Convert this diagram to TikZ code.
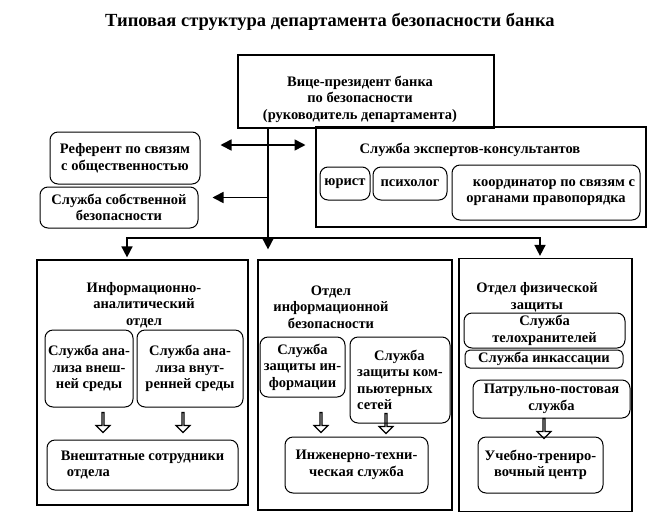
\documentclass[tikz,border=0pt]{standalone}
\usepackage{fontspec}
\setmainfont{Liberation Serif}
\usetikzlibrary{arrows.meta,shapes.arrows}

\begin{document}
\begin{tikzpicture}[x=1pt,y=-1pt,font=\bfseries\fontsize{14.5}{16.5}\selectfont,
 frame/.style={draw,line width=1.2pt,inner sep=0pt},
 box/.style={draw,line width=1pt,rounded corners=8pt,align=center,inner sep=1pt},
 txt/.style={align=center,inner sep=0pt},
 tip/.tip={Triangle[length=11pt,width=11pt]},
 arr/.style={line width=1.6pt,-tip},
 hol/.style={single arrow,draw,line width=1.2pt,shape border rotate=270,minimum height=20pt,
   minimum width=14pt,single arrow head extend=3.5pt,inner sep=0pt}]
\useasboundingbox (0,0) rectangle (661,523);
\node[font=\bfseries\fontsize{18.5}{22}\selectfont] (title) at (330,22) {Типовая структура департамента безопасности банка};

% head of department and staff around it
\node[frame,minimum width=256pt,minimum height=73pt] (vp) at (366,91.5) {};
\node[txt] (vpt) at (360,99) {Вице-президент банка\\ по безопасности\\(руководитель департамента)};
\node[frame,minimum width=330pt,minimum height=100pt] (exp) at (481,177) {};
\node[txt] (expt) at (470,150) {Служба экспертов-консультантов};
\node[box,minimum width=50pt,minimum height=33pt] (jur) at (345,183.5) {юрист};
\node[box,minimum width=74pt,minimum height=33pt] (psy) at (410,183.5) {психолог};
\node[box,minimum width=188pt,minimum height=55pt] (coord) at (546,192.5) {\hspace*{16pt}координатор по связям с\\органами правопорядка};
\node[box,minimum width=150pt,minimum height=52pt] (ref) at (125,158) {Референт по связям\\с общественностью};
\node[box,minimum width=158pt,minimum height=41pt] (sob) at (119,207.5) {Служба собственной\\безопасности};

% three departments
\node[frame,minimum width=211pt,minimum height=245pt] (inf) at (142.5,382.5) {};
\node[txt] (inft) at (144,305) {Информационно-\\аналитический\\отдел};
\node[frame,minimum width=194pt,minimum height=250pt] (mid) at (355,385) {};
\node[txt] (midt) at (331,307) {Отдел\\информационной\\безопасности};
\node[frame,minimum width=173pt,minimum height=253pt] (fiz) at (545.5,385) {};
\node[txt] (fizt) at (537,297) {Отдел физической\\защиты};

\node[box,minimum width=88pt,minimum height=77pt] (inf1) at (89,368.5) {Служба ана-\\лиза внеш-\\ней среды};
\node[box,minimum width=106pt,minimum height=77pt] (inf2) at (190,368.5) {Служба ана-\\лиза внут-\\ренней среды};
\node[box,minimum width=191pt,minimum height=50pt,align=left] (ext) at (142.5,465) {Внештатные сотрудники\\\hspace*{6pt}отдела};
\node[hol] (h1) at (103,422) {};
\node[hol] (h2) at (183,422) {};

\node[box,minimum width=85pt,minimum height=60pt] (mid1) at (302.5,367) {Служба\\защиты ин-\\формации};
\node[box,minimum width=100pt,minimum height=86pt,align=left] (mid2) at (400,380) {\hspace*{17pt}Служба\\защиты ком-\\пьютерных\\сетей};
\node[box,minimum width=143pt,minimum height=56pt] (eng) at (356.5,465) {Инженерно-техни-\\ческая служба};
\node[hol] (h3) at (321,422) {};
\node[hol] (h4) at (386,423) {};

\node[box,minimum width=161pt,minimum height=35pt] (fiz1) at (544.5,330.5) {Служба\\телохранителей};
\node[box,minimum width=158pt,minimum height=18pt,rounded corners=5pt] (fiz2) at (544,359) {Служба инкассации};
\node[box,minimum width=157pt,minimum height=38pt] (fiz3) at (551.5,399) {Патрульно-постовая\\служба};
\node[box,minimum width=125pt,minimum height=56pt] (fiz4) at (540.5,465) {Учебно-трениро-\\вочный центр};
\node[hol] (h5) at (544,428) {};

% links
\coordinate (tr) at ([xshift=-98pt]vp.south);
\coordinate (bus) at (tr |- 0,238);
\draw[arr,tip-tip,shorten <=20pt,shorten >=11pt] ([yshift=13pt]ref.east) -- ++(116,0);
\draw[arr,shorten >=10pt] (tr) -- (tr |- mid.north);
\draw[arr,shorten >=14pt] ([yshift=10pt]sob.east -| tr) -- ([yshift=10pt]sob.east);
\draw[arr,shorten >=2pt] (bus) -| ([xshift=-15.5pt]inf.north);
\draw[arr,shorten >=2pt] (bus) -| ([xshift=-5.5pt]fiz.north);
\end{tikzpicture}
\end{document}
